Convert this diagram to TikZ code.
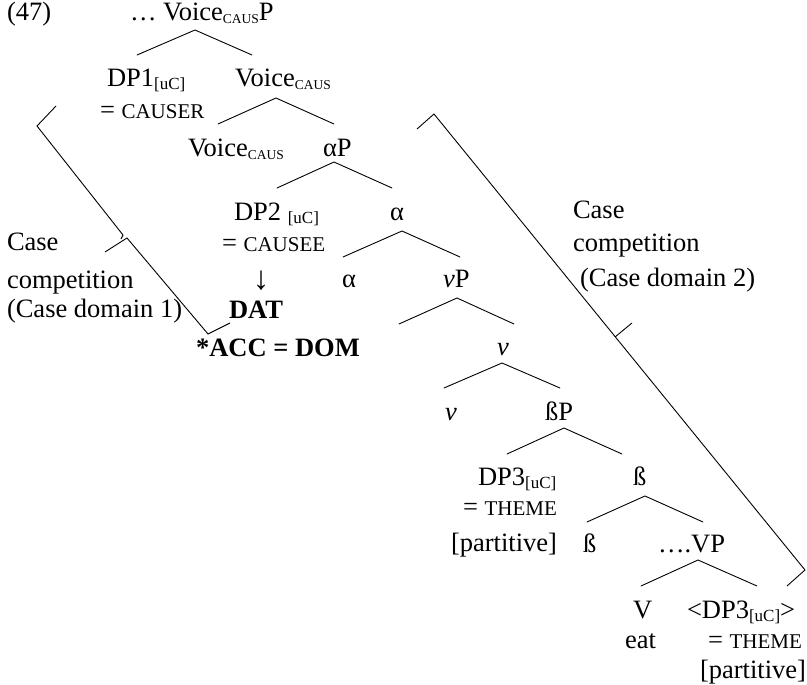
\documentclass[tikz,border=0pt]{standalone}
\usepackage{fontspec}
\setmainfont{Liberation Serif}
% subscripted labels and faked small capitals
\newcommand\capsub[1]{\raisebox{-3pt}{\fontsize{13.5}{14}\selectfont #1}}
\newcommand\ucsub{\raisebox{-3pt}{\fontsize{17}{18}\selectfont [uC]}}
\newcommand\scfake[1]{{\fontsize{21}{22}\selectfont #1}}
\begin{document}
\begin{tikzpicture}[x=1pt,y=-1pt,
  lbl/.style={inner sep=0pt,outer sep=0pt,anchor=base west,font=\fontsize{26.5}{31}\selectfont},
  branch/.style={line width=0.9pt,line cap=round},
  bracketline/.style={line width=0.9pt,line join=miter}]
\useasboundingbox (0,0) rectangle (807,685);

% example number and tree labels
\node[lbl] (n47)    at (7,21)    {(47)};
\node[lbl] (top)    at (130,21)  {… Voice\capsub{CAUS}P};
\node[lbl] (dp1)    at (107,87)  {DP1\ucsub};
\node[lbl] (causer) at (100,118) {= \scfake{CAUSER}};
\node[lbl] (v1)     at (235,87)  {Voice\capsub{CAUS}};
\node[lbl] (v2)     at (188,157) {Voice\capsub{CAUS}};
\node[lbl] (aP)     at (323,157) {αP};
\node[lbl] (dp2)    at (234,220) {DP2 \ucsub};
\node[lbl] (causee) at (222,251) {= \scfake{CAUSEE}};
\node[lbl] (a1)     at (390,220) {α};
\node[lbl,anchor=center,font=\fontsize{33}{33}\selectfont] (arr) at (261,281) {↓};
\node[lbl] (dat)    at (229,318) {\bfseries DAT};
\node[lbl] (acc)    at (196,356) {\bfseries *ACC = DOM};
\node[lbl] (a2)     at (342,287) {α};
\node[lbl] (vP)     at (443,287) {{\itshape v}P};
\coordinate (vspec) at (399,324);
\node[lbl] (vbar)   at (497,355) {\itshape v};
\node[lbl] (v0)     at (445,420) {\itshape v};
\node[lbl] (bP)     at (545,420) {ßP};
\node[lbl] (dp3)    at (478,485) {DP3\ucsub};
\node[lbl] (theme)  at (463,515) {= \scfake{THEME}};
\node[lbl] (part)   at (451,551) {[partitive]};
\node[lbl] (b1)     at (633,485) {ß};
\node[lbl] (b0)     at (583,552) {ß};
\node[lbl] (VP)     at (658,552) {….VP};
\node[lbl] (V)      at (633,618) {V};
\node[lbl] (dp3b)   at (687,618) {<DP3\ucsub>};
\node[lbl] (eat)    at (625,648) {eat};
\node[lbl] (theme2) at (708,648) {= \scfake{THEME}};
\node[lbl] (part2)  at (700,678) {[partitive]};

% side labels
\node[lbl] (case1) at (7,250)   {Case};
\node[lbl] (comp1) at (7,288)   {competition};
\node[lbl] (dom1)  at (7,317)   {(Case domain 1)};
\node[lbl] (case2) at (573,218) {Case};
\node[lbl] (comp2) at (573,251) {competition};
\node[lbl] (dom2)  at (580,286) {(Case domain 2)};

% branches
\draw[branch] ([shift={(30,-32)}]dp1.base west) -- ([shift={(65,9)}]top.base west) -- ([shift={(17,-32)}]v1.base west);
\draw[branch] ([shift={(30,-33)}]v2.base west) -- ([shift={(41,11)}]v1.base west) -- ([shift={(11,-33)}]aP.base west);
\draw[branch] ([shift={(43,-32)}]dp2.base west) -- ([shift={(11,5)}]aP.base west) -- ([shift={(2,-32)}]a1.base west);
\draw[branch] ([shift={(1,-30)}]a2.base west) -- ([shift={(12,11)}]a1.base west) -- ([shift={(17,-30)}]vP.base west);
\draw[branch] (vspec) -- ([shift={(14,11)}]vP.base west) -- ([shift={(17,-31)}]vbar.base west);
\draw[branch] ([shift={(-1,-32)}]v0.base west) -- ([shift={(5,8)}]vbar.base west) -- ([shift={(15,-32)}]bP.base west);
\draw[branch] ([shift={(29,-31)}]dp3.base west) -- ([shift={(19,8)}]bP.base west) -- ([shift={(-11,-31)}]b1.base west);
\draw[branch] ([shift={(4,-30)}]b0.base west) -- ([shift={(12,11)}]b1.base west) -- ([shift={(45,-30)}]VP.base west);
\draw[branch] ([shift={(8,-32)}]V.base west) -- ([shift={(40,8)}]VP.base west) -- ([shift={(70,-32)}]dp3b.base west);

% case domain 1 bracket
\draw[bracketline] (56,106) -- (37,126) -- (123,235) -- (121,239);
\draw[bracketline] (105,252) -- (127,238) -- (208,334) -- (230,323);

% case domain 2 bracket
\draw[bracketline] (417,129) -- (434,114) -- (805,570) -- (787,586);
\draw[bracketline] (615,337) -- (632,323);
\end{tikzpicture}
\end{document}
